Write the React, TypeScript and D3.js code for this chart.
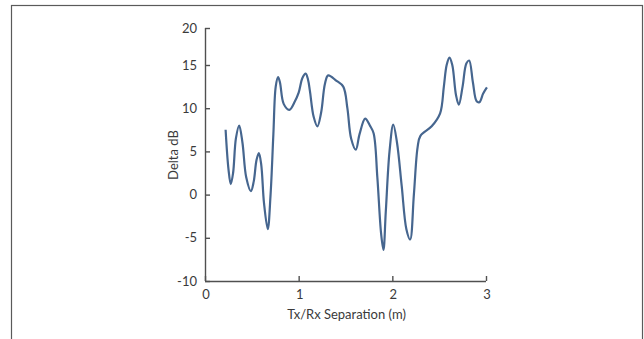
import React, { useRef, useEffect } from "react";
import * as d3 from "d3";

const separation = [
  0.22, 0.25, 0.275, 0.3, 0.33, 0.365, 0.4, 0.44, 0.49, 0.52, 0.55, 0.575, 0.6,
  0.63, 0.67, 0.7, 0.73, 0.755, 0.78, 0.8, 0.84, 0.9, 0.96, 1.0, 1.04, 1.075,
  1.1, 1.12, 1.16, 1.2, 1.24, 1.28, 1.315, 1.4, 1.476, 1.52, 1.56, 1.61, 1.65,
  1.71, 1.76, 1.8, 1.84, 1.88, 1.905, 1.93, 1.97, 2.01, 2.05, 2.1, 2.15, 2.19,
  2.23, 2.27, 2.3, 2.42, 2.51, 2.55, 2.58, 2.61, 2.64, 2.68, 2.71, 2.75, 2.79,
  2.82, 2.86, 2.9, 2.93, 2.97, 3.01,
];
const deltaDb = [
  7.5, 3.0, 1.2, 2.5, 6.5, 8.0, 6.0, 2.0, 0.4, 1.5, 4.0, 4.8, 3.5, -1.0, -4.0,
  0.0, 7.0, 12.5, 13.6, 13.0, 10.5, 9.8, 10.8, 11.8, 13.5, 14.0, 13.3, 12.0,
  9.0, 7.9, 9.5, 12.8, 13.8, 13.2, 12.5, 10.0, 6.5, 5.2, 7.0, 8.8, 8.0, 7.1,
  2.0, -4.5, -6.4, -2.0, 5.0, 8.1, 6.0, 1.0, -4.0, -5.2, 0.0, 5.5, 6.8, 7.9,
  9.4, 12.5, 15.0, 16.0, 15.0, 11.5, 10.4, 12.5, 15.2, 15.6, 13.0, 10.8, 10.7,
  11.7, 12.4,
];
const xTicks = [0, 1, 2, 3];
const yTicks = [-10, -5, 0, 5, 10, 15, 20];

const W = 644;
const H = 339;

const Chart = () => {
  const ref = useRef(null);

  useEffect(() => {
    const svg = d3.select(ref.current);
    svg.selectAll("*").remove();

    const font = "Lato, 'Open Sans', sans-serif";
    const axisColor = "#505050";
    const textColor = "#3a3a3a";

    // outer frame
    svg
      .append("rect")
      .attr("x", 11.5)
      .attr("y", 5.5)
      .attr("width", 631)
      .attr("height", 400)
      .attr("fill", "white")
      .attr("stroke", "#5a5a5a")
      .attr("stroke-width", 1.2);

    const x = d3.scaleLinear().domain([0, 3]).range([205, 486]);
    const y = d3.scaleLinear().domain([-10, 15, 20]).range([281, 65, 28]);

    const g = svg.append("g");

    // y axis
    const yAxis = g
      .append("g")
      .attr("transform", `translate(${x(0)},0)`)
      .call(
        d3
          .axisRight(y)
          .tickValues(yTicks)
          .tickSize(5)
          .tickFormat(() => "")
      );
    yAxis.select(".domain").attr("stroke", axisColor).attr("stroke-width", 1.4)
      .attr("d", `M0.5,${y(20)}V${y(-10)}`);
    yAxis.selectAll(".tick line").attr("stroke", axisColor).attr("stroke-width", 1.4);

    g.selectAll(".ylab")
      .data(yTicks)
      .enter()
      .append("text")
      .attr("x", x(0) - 8)
      .attr("y", (d) => y(d))
      .attr("dy", "0.35em")
      .attr("text-anchor", "end")
      .attr("font-family", font)
      .attr("font-size", 13)
      .attr("fill", textColor)
      .text((d) => d);

    // x axis
    const xAxis = g
      .append("g")
      .attr("transform", `translate(0,${y(-10)})`)
      .call(
        d3
          .axisTop(x)
          .tickValues(xTicks)
          .tickSize(5)
          .tickFormat(() => "")
      );
    xAxis.select(".domain").attr("stroke", axisColor).attr("stroke-width", 1.4)
      .attr("d", `M${x(0)},0.5H${x(3)}`);
    xAxis.selectAll(".tick line").attr("stroke", axisColor).attr("stroke-width", 1.4);

    g.selectAll(".xlab")
      .data(xTicks)
      .enter()
      .append("text")
      .attr("x", (d) => x(d) + 1)
      .attr("y", y(-10) + 18)
      .attr("text-anchor", "middle")
      .attr("font-family", font)
      .attr("font-size", 13)
      .attr("fill", textColor)
      .text((d) => d);

    // axis titles
    g.append("text")
      .attr("x", (x(0) + x(3)) / 2 + 1)
      .attr("y", 319)
      .attr("text-anchor", "middle")
      .attr("font-family", font)
      .attr("font-size", 13)
      .attr("fill", textColor)
      .text("Tx/Rx Separation (m)");
    g.append("text")
      .attr("transform", `translate(178,155) rotate(-90)`)
      .attr("text-anchor", "middle")
      .attr("font-family", font)
      .attr("font-size", 13)
      .attr("fill", textColor)
      .text("Delta dB");

    // series
    const pts = separation.map((s, i) => [s, deltaDb[i]]);
    const line = d3
      .line()
      .x((d) => x(d[0]))
      .y((d) => y(d[1]))
      .curve(d3.curveCatmullRom.alpha(0.5));
    g.append("path")
      .datum(pts)
      .attr("fill", "none")
      .attr("stroke", "#46668f")
      .attr("stroke-width", 2.2)
      .attr("stroke-linejoin", "round")
      .attr("d", line);
  }, []);

  return <svg ref={ref} width={W} height={H} style={{ position: "absolute", left: 0, top: 0 }} />;
};

export default function App() {
  return <Chart />;
}
